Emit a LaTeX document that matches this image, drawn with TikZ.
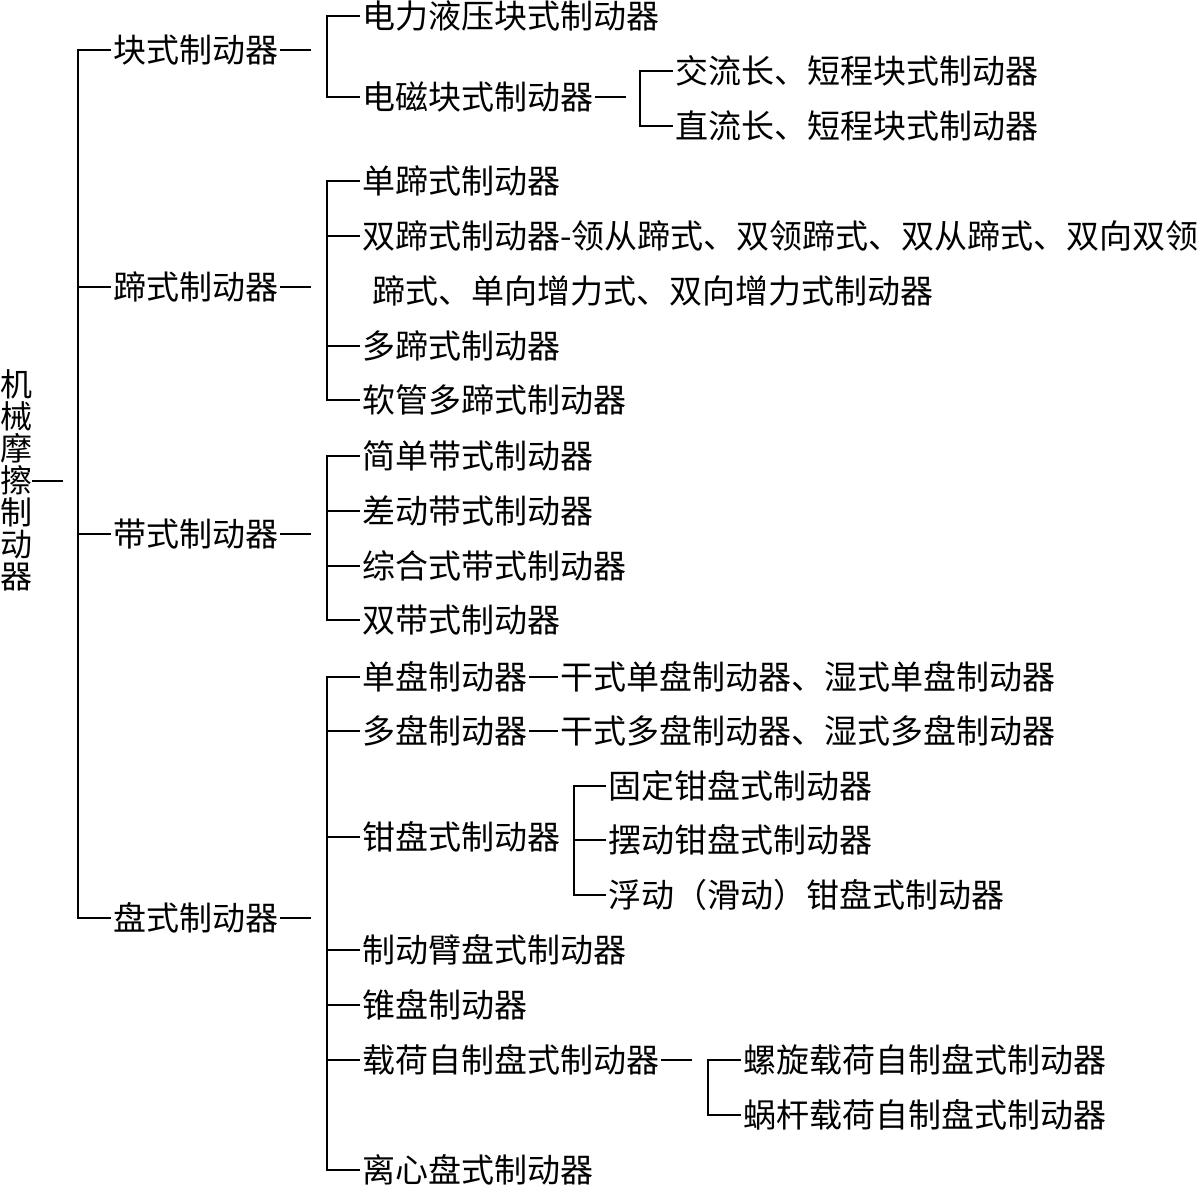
\documentclass[tikz,border=0pt]{standalone}
\usepackage{fontspec}
\newfontfamily\cjk{Noto Sans CJK SC}
\begin{document}
\begin{tikzpicture}[x=1pt,y=-1pt,
  lbl/.style={anchor=west,inner xsep=2pt,inner ysep=0pt,font=\cjk\fontsize{33}{36}\selectfont},
  ln/.style={line width=1.3pt},
  trunk/.style={line width=1.8pt}]
\path[use as bounding box,fill=white] (0,0) rectangle (1200,1186);
% root
\node[inner sep=0pt,align=center,font=\cjk\fontsize{32}{32}\selectfont] (root) at (16,480) {机\\械\\摩\\擦\\制\\动\\器};
\coordinate (rootend) at (63,481);
\draw[ln] (root.east |- rootend) -- (rootend);
% level 1
\node[lbl] (a) at (111,50) {块式制动器};
\node[lbl] (b) at (111,287) {蹄式制动器};
\node[lbl] (c) at (111,534) {带式制动器};
\node[lbl] (d) at (111,918) {盘式制动器};
\coordinate (T1) at (78,50);
\coordinate (T2) at (78,287);
\coordinate (T3) at (78,534);
\coordinate (T4) at (78,918);
\draw[trunk] (a.west) -- (T1) -- (T4) -- (d.west);
\draw[ln] (T2) -- (b.west);
\draw[ln] (T3) -- (c.west);
\foreach \n in {a,b,c,d} \draw[ln] (\n.east) -- ++(31,0) coordinate (\n e);
% block
\node[lbl] (a1) at (360,16) {电力液压块式制动器};
\node[lbl] (a2) at (360,97) {电磁块式制动器};
\draw[ln] (a1.west) -- ++(-33,0) |- (a2.west);
\draw[ln] (a2.east) -- ++(31,0) coordinate (a2e);
\node[lbl] (a21) at (673,71) {交流长、短程块式制动器};
\node[lbl] (a22) at (673,126) {直流长、短程块式制动器};
\draw[ln] (a21.west) -- ++(-33,0) |- (a22.west);
% shoe
\node[lbl] (b1) at (360,181) {单蹄式制动器};
\node[lbl] (b2) at (360,236) {双蹄式制动器-领从蹄式、双领蹄式、双从蹄式、双向双领};
\node[lbl] (b2x) at (370,291) {蹄式、单向增力式、双向增力式制动器};
\node[lbl] (b3) at (360,346) {多蹄式制动器};
\node[lbl] (b4) at (360,400) {软管多蹄式制动器};
\draw[ln] (b1.west) -- ++(-33,0) |- (b4.west);
\draw[ln] (b2.west) -- ++(-33,0);
\draw[ln] (b3.west) -- ++(-33,0);
% band
\node[lbl] (c1) at (360,456) {简单带式制动器};
\node[lbl] (c2) at (360,511) {差动带式制动器};
\node[lbl] (c3) at (360,566) {综合式带式制动器};
\node[lbl] (c4) at (360,620) {双带式制动器};
\draw[ln] (c1.west) -- ++(-33,0) |- (c4.west);
\draw[ln] (c2.west) -- ++(-33,0);
\draw[ln] (c3.west) -- ++(-33,0);
% disc
\node[lbl] (d1) at (360,677) {单盘制动器};
\node[lbl] (d1x) at (558,677) {干式单盘制动器、湿式单盘制动器};
\draw[ln] (d1.east) -- (d1x.west);
\node[lbl] (d2) at (360,731) {多盘制动器};
\node[lbl] (d2x) at (558,731) {干式多盘制动器、湿式多盘制动器};
\draw[ln] (d2.east) -- (d2x.west);
\node[lbl] (d3) at (360,837) {钳盘式制动器};
\node[lbl] (d31) at (606,786) {固定钳盘式制动器};
\node[lbl] (d32) at (606,840) {摆动钳盘式制动器};
\node[lbl] (d33) at (606,895) {浮动（滑动）钳盘式制动器};
\draw[ln] (d31.west) -- ++(-32,0) |- (d33.west);
\draw[ln] (d32.west) -- ++(-32,0);
\node[lbl] (d4) at (360,950) {制动臂盘式制动器};
\node[lbl] (d5) at (360,1005) {锥盘制动器};
\node[lbl] (d6) at (360,1060) {载荷自制盘式制动器};
\draw[ln] (d6.east) -- ++(31,0) coordinate (d6e);
\node[lbl] (d61) at (741,1060) {螺旋载荷自制盘式制动器};
\node[lbl] (d62) at (741,1115) {蜗杆载荷自制盘式制动器};
\draw[ln] (d61.west) -- ++(-33,0) |- (d62.west);
\node[lbl] (d7) at (360,1170) {离心盘式制动器};
\draw[ln] (d1.west) -- ++(-33,0) |- (d7.west);
\foreach \n in {d2,d3,d4,d5,d6} \draw[ln] (\n.west) -- ++(-33,0);
\end{tikzpicture}
\end{document}
